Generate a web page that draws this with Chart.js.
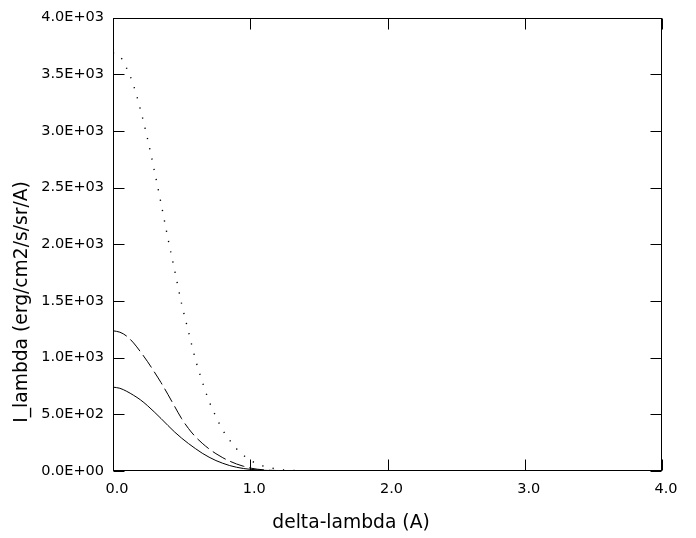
<!DOCTYPE html>
<html>
<head>
<meta charset="utf-8">
<script src="https://cdn.jsdelivr.net/npm/chart.js@4.4.1/dist/chart.umd.min.js"></script>
<style>
  html, body { margin: 0; padding: 0; background: #ffffff; }
  #wrap { width: 696px; height: 538px; }
</style>
</head>
<body>
<div id="wrap"><canvas id="c" width="696" height="538"></canvas></div>
<script>
// ---- data ----
const xValues = [0, 0.05, 0.1, 0.15, 0.2, 0.25, 0.3, 0.35, 0.4, 0.45, 0.5, 0.55, 0.6, 0.65, 0.7,
                 0.75, 0.8, 0.85, 0.9, 0.95, 1.0, 1.05, 1.1, 1.15, 1.2, 1.25, 1.3, 1.35, 1.4];
const solidValues = [740, 730, 703, 668, 628, 578, 522, 463, 402, 343, 290, 242, 198, 157, 122,
                     92, 68, 48, 33, 22, 15, 10, 6, 4, 2, 1.5, 1, 0.5, 0];
const dashedValues = [1237, 1225, 1190, 1130, 1052, 968, 876, 780, 676, 568, 462, 375, 303, 245, 195,
                      153, 117, 87, 62, 42, 26, 16, 10, 6, 4, 3, 2, 1, 1];
const dottedValues = [3690, 3660, 3553, 3402, 3188, 2940, 2658, 2362, 2054, 1766, 1475, 1230, 988, 790, 616,
                      480, 360, 272, 197, 140, 96, 62, 42, 28, 16, 9, 5, 4, 3];
const xTickLabels = ['0.0', '1.0', '2.0', '3.0', '4.0'];
const yTickLabels = ['0.0E+00', '5.0E+02', '1.0E+03', '1.5E+03', '2.0E+03', '2.5E+03',
                     '3.0E+03', '3.5E+03', '4.0E+03'];
const xTitle = 'delta-lambda (A)';
const yTitle = 'I_lambda (erg/cm2/s/sr/A)';

function pts(ys) { return xValues.map((x, i) => ({ x: x, y: ys[i] })); }

const FONT = "'DejaVu Sans', 'Liberation Sans', sans-serif";

const frameTicks = {
  id: 'frameTicks',
  afterDatasetsDraw(chart) {
    const { ctx, chartArea: a, scales } = chart;
    const L = Math.round(a.left) + 0.5, R = Math.round(a.right) - 0.5;
    const T = Math.round(a.top) + 0.5, B = Math.round(a.bottom) - 0.5;
    ctx.save();
    ctx.strokeStyle = '#000';
    ctx.lineWidth = 1;
    ctx.strokeRect(L, T, R - L, B - T);
    const tl = 11;
    ctx.beginPath();
    scales.x.ticks.forEach(t => {
      const px = Math.round(scales.x.getPixelForValue(t.value)) + 0.5;
      ctx.moveTo(px, B); ctx.lineTo(px, B - tl);
      ctx.moveTo(px, T); ctx.lineTo(px, T + tl);
    });
    scales.y.ticks.forEach(t => {
      const py = Math.round(scales.y.getPixelForValue(t.value)) + 0.5;
      ctx.moveTo(L, py); ctx.lineTo(L + tl, py);
      ctx.moveTo(R, py); ctx.lineTo(R - tl, py);
    });
    ctx.stroke();
    // axis titles
    ctx.fillStyle = '#000';
    ctx.font = '18.7px ' + FONT;
    ctx.textAlign = 'center';
    ctx.textBaseline = 'alphabetic';
    ctx.fillText(xTitle, 351, 528);
    ctx.translate(27, 302);
    ctx.rotate(-Math.PI / 2);
    ctx.fillText(yTitle, 0, 0);
    ctx.restore();
  }
};

new Chart(document.getElementById('c'), {
  type: 'line',
  data: {
    datasets: [
      { data: pts(solidValues), borderColor: '#000', borderWidth: 1, pointRadius: 0,
        cubicInterpolationMode: 'monotone', fill: false },
      { data: pts(dashedValues), borderColor: '#000', borderWidth: 1, pointRadius: 0,
        borderDash: [15, 5], cubicInterpolationMode: 'monotone', fill: false },
      { data: pts(dottedValues), borderColor: '#000', borderWidth: 1.4, pointRadius: 0,
        borderDash: [1.2, 9.3], cubicInterpolationMode: 'monotone', fill: false }
    ]
  },
  options: {
    responsive: false,
    animation: false,
    devicePixelRatio: 1,
    layout: { padding: { top: 15, right: 34, bottom: 0, left: 0 } },
    plugins: { legend: { display: false }, tooltip: { enabled: false } },
    scales: {
      x: {
        type: 'linear', min: 0, max: 4,
        afterFit(s) { s.height = 67; },
        grid: { display: false, drawTicks: false },
        border: { display: false },
        ticks: {
          stepSize: 1, padding: 10, color: '#000', maxRotation: 0, labelOffset: 4,
          font: { family: FONT, size: 14.5 },
          callback: (v) => xTickLabels[Math.round(v)]
        },
        title: { display: false }
      },
      y: {
        type: 'linear', min: 0, max: 4000,
        afterFit(s) { s.width = 113; },
        grid: { display: false, drawTicks: false },
        border: { display: false },
        ticks: {
          stepSize: 500, padding: 9, color: '#000',
          font: { family: FONT, size: 14.5 },
          callback: (v) => yTickLabels[Math.round(v / 500)]
        },
        title: { display: false }
      }
    }
  },
  plugins: [frameTicks]
});
</script>
</body>
</html>
